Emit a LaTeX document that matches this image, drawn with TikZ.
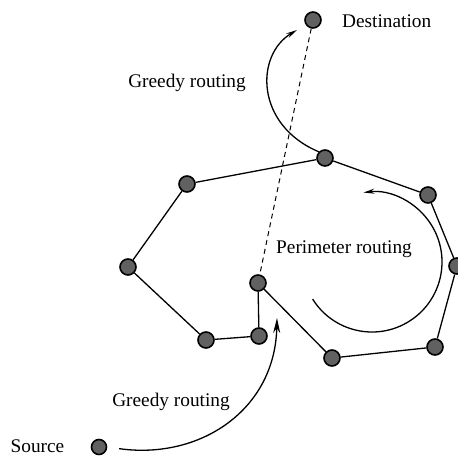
\documentclass[tikz,border=0pt]{standalone}
\usepackage{fontspec}
\setmainfont{Liberation Serif}
\usetikzlibrary{arrows.meta}
\begin{document}
\begin{tikzpicture}[x=1pt,y=-1pt,
  dot/.style={circle, minimum size=16pt, inner sep=0pt, fill=black!62, draw=black, line width=1.6pt},
  edge/.style={line width=1.3pt},
  curvearrow/.style={line width=1.3pt, -{Stealth[length=11pt,width=5pt]}},
  lbl/.style={font=\fontsize{19.3}{22}\selectfont, inner sep=0pt, anchor=base}]
\useasboundingbox (0,0) rectangle (458,457);
% nodes
\node[dot] (dst) at (313,20) {};
\node[dot] (n1) at (325,158) {};
\node[dot] (n2) at (187,184) {};
\node[dot] (n3) at (128,267) {};
\node[dot] (n4) at (206,340) {};
\node[dot] (n5) at (259,336) {};
\node[dot] (n6) at (258,283) {};
\node[dot] (n7) at (332,358) {};
\node[dot] (n8) at (435,347) {};
\node[dot] (n9) at (457,266) {};
\node[dot] (n10) at (428,195) {};
\node[dot, minimum size=15pt] (src) at (99,447) {};
% labels
\node[lbl, anchor=base west] (ldst) at (342,28) {Destination};
\node[lbl] (lsrc) at (37.5,452) {Source};
\node[lbl] (lg1) at (187,88) {Greedy routing};
\node[lbl] (lg2) at (171,406) {Greedy routing};
\node[lbl] (lp) at (344,254) {Perimeter routing};
% dashed line
\draw[line width=1pt, dash pattern=on 5pt off 4pt] (dst) -- (n6);
% polygon edges
\draw[edge] (n2) -- (n1) -- (n10) -- (n9) -- (n8) -- (n7) -- (n6) -- (n5) -- (n4) -- (n3) -- (n2);
% arrows
\coordinate (tipd) at (297,30);
\coordinate (tips) at (277,318);
\draw[curvearrow] (n1.north west) .. controls (255,125) and (255,55) .. (tipd);
\draw[line width=1.3pt, -{Stealth[length=15pt,width=7pt]}, shorten <=12pt] (src.east) .. controls (200,460) and (275,410) .. (tips);
\draw[curvearrow] (372,262) ++(148:70) arc[start angle=148, end angle=-97, radius=70];
\end{tikzpicture}
\end{document}
